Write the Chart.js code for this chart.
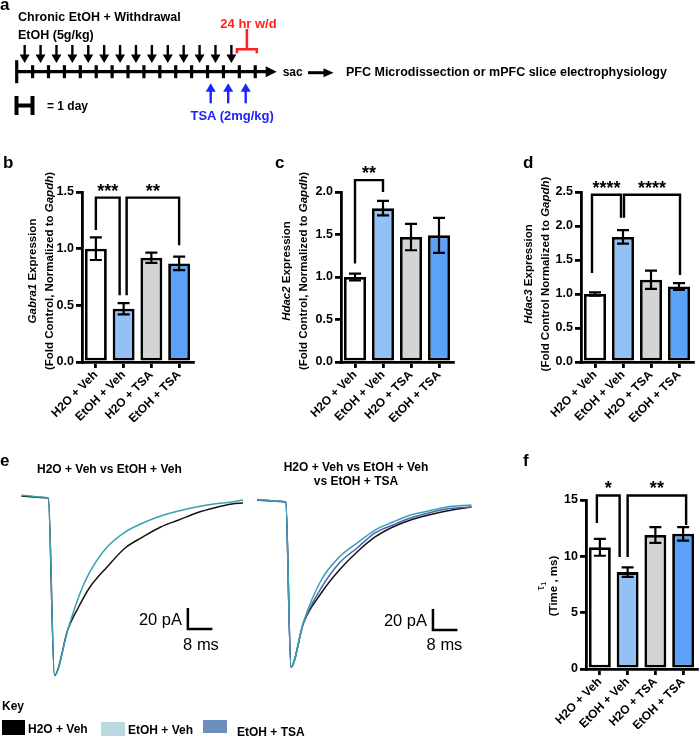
<!DOCTYPE html>
<html>
<head>
<meta charset="utf-8">
<script src="https://cdn.jsdelivr.net/npm/chart.js@4.4.1/dist/chart.umd.min.js"></script>
<style>
body { margin: 0; background: #fff; }
#fig { position: relative; width: 699px; height: 738px; overflow: hidden; font-family: 'Liberation Sans', Arial, sans-serif; color: #000; }
#fig canvas { position: absolute; left: 0; top: 0; }
.t { position: absolute; white-space: nowrap; line-height: 1; font-weight: bold; }
.yt { position: absolute; white-space: nowrap; line-height: 1; font-weight: bold; font-size: 11.5px; transform: translate(-50%, -50%) rotate(-90deg); }
.yt sub { font-size: 0.7em; vertical-align: -0.2em; line-height: 0; }
.sw { position: absolute; }
</style>
</head>
<body>
<div id="fig">
  <canvas id="timeline" width="699" height="738"></canvas>
  <canvas id="gabra1" width="699" height="738"></canvas>
  <canvas id="hdac2" width="699" height="738"></canvas>
  <canvas id="hdac3" width="699" height="738"></canvas>
  <canvas id="tau" width="699" height="738"></canvas>
  <canvas id="traceA" width="699" height="738"></canvas>
  <canvas id="traceB" width="699" height="738"></canvas>
</div>
<script>
// ---- data ----
const groups = ["H2O + Veh", "EtOH + Veh", "H2O + TSA", "EtOH + TSA"];

const gabra1Mean = [1.00, 0.47, 0.92, 0.87];
const gabra1Sem = [0.10, 0.05, 0.045, 0.06];
const hdac2Mean = [1.00, 1.81, 1.47, 1.49];
const hdac2Sem = [0.04, 0.085, 0.155, 0.205];
const hdac3Mean = [1.00, 1.84, 1.21, 1.11];
const hdac3Sem = [0.025, 0.10, 0.135, 0.05];
const tauMean = [10.8, 8.6, 11.9, 12.0];
const tauSem = [0.75, 0.42, 0.7, 0.6];

// significance brackets: bar indices, top value, leg end values, stars
const gabra1Sig = [
    { from: 0, to: 1, top: 1.45, yFrom: 1.165, yTo: 0.59, text: "***", dxTo: -4 },
    { from: 1, to: 3, top: 1.45, yFrom: 0.59, yTo: 1.03, text: "**", dxFrom: 3 }
];
const hdac2Sig = [
    { from: 0, to: 1, top: 2.14, yFrom: 1.16, yTo: 2.0, text: "**" }
];
const hdac3Sig = [
    { from: 0, to: 1, top: 2.46, yFrom: 1.31, yTo: 2.12, text: "****", dxFrom: -3, dxTo: -2 },
    { from: 1, to: 3, top: 2.46, yFrom: 2.12, yTo: 1.28, text: "****", dxFrom: 1, dxTo: 1 }
];
const tauSig = [
    { from: 0, to: 1, top: 15.4, yFrom: 12.95, yTo: 9.94, text: "*", dxFrom: -3, dxTo: -8 },
    { from: 1, to: 3, top: 15.4, yFrom: 9.94, yTo: 12.78, text: "**", dxTo: 3 }
];

// timeline (days)
const tickDays = [0, 1, 2, 3, 4, 5, 6, 7, 8, 9, 10, 11, 12, 13, 14, 15];
const etohDays = [0.5, 1.5, 2.5, 3.5, 4.5, 5.5, 6.5, 7.5, 8.5, 9.5, 10.5, 11.5, 12.5, 13.5];
const tsaDays = [12.2, 13.3, 14.4];
const withdrawalDays = [13.85, 15.1];

// current traces (ms, pA)
const timeA = [0, 3, 6, 8.8, 10.8, 15.2, 18.7, 22.2, 28.0, 33.9, 39.7, 45.5, 51.4, 57.2, 62.9, 68.8, 72.4];
const h2oVehA = [0, -0.8, -1.4, -2, -171, -127, -105.7, -87.6, -67.6, -49.5, -39, -29.5, -22.9, -16.2, -11.4, -7.6, -6.7];
const etohVehA = [0.6, 0, -1, -2, -171, -127, -96.2, -73.3, -48.6, -34.3, -25.7, -19, -14.3, -10.5, -7.6, -5.7, -3.8];

const timeB = [0, 3, 6, 9.4, 11.1, 15.2, 21.0, 26.9, 32.7, 38.6, 44.4, 50.2, 56.1, 61.9, 70.1];
const h2oVehB = [0, -0.5, -1.2, -1.9, -159, -117, -88.6, -66.7, -49.5, -35.2, -25.7, -19, -14.3, -10.5, -6.7];
const etohVehB = [0.5, 0, -1, -1.9, -159, -116, -76.2, -54.3, -41, -28.6, -21, -14.3, -10.5, -6.7, -4.8];
const etohTsaB = [0, -0.5, -1.2, -1.9, -159, -117, -83.8, -60, -45.7, -31.4, -23.8, -17.1, -12.4, -8.6, -6.7];

// ---- drawing ----
const W = 699, H = 738;
const FONT = "'Liberation Sans', Arial, sans-serif";
const barFill = ["#ffffff", "#93c1f6", "#d4d4d4", "#5aa1f7"];
const RED = "#ff2020", BLUE = "#1e22ff";
const fig = document.getElementById("fig");

function lab(html, x, base, size, o = {}) {
    const d = document.createElement("div");
    d.className = "t";
    d.innerHTML = html;
    d.style.fontSize = size + "px";
    d.style.left = x + "px";
    d.style.top = (base - 0.85 * size) + "px";
    if (o.color) d.style.color = o.color;
    if (o.weight) d.style.fontWeight = o.weight;
    if (o.align === "center") d.style.transform = "translateX(-50%)";
    if (o.align === "right") d.style.transform = "translateX(-100%)";
    fig.appendChild(d);
}

function yTitle(html, x, y, weight) {
    const d = document.createElement("div");
    d.className = "yt";
    d.innerHTML = html;
    d.style.left = x + "px";
    d.style.top = y + "px";
    if (weight) d.style.fontWeight = weight;
    fig.appendChild(d);
}

const marks = {
    id: "marks",
    afterDatasetsDraw(chart) {
        const { ctx, scales: { x, y } } = chart;
        const ds = chart.data.datasets[0];
        ctx.save();
        ctx.strokeStyle = "#000";
        ctx.fillStyle = "#000";
        ctx.lineWidth = 2.2;
        ds.data.forEach((m, i) => {
            const px = x.getPixelForValue(i);
            const hi = y.getPixelForValue(m + ds.sems[i]);
            const lo = y.getPixelForValue(m - ds.sems[i]);
            ctx.beginPath();
            ctx.moveTo(px, hi); ctx.lineTo(px, lo);
            ctx.moveTo(px - 6, hi); ctx.lineTo(px + 6, hi);
            ctx.moveTo(px - 6, lo); ctx.lineTo(px + 6, lo);
            ctx.stroke();
        });
        ctx.lineWidth = 2.4;
        ctx.font = "bold 18px " + FONT;
        ctx.textAlign = "center";
        ctx.textBaseline = "alphabetic";
        ds.brackets.forEach(b => {
            const xa = x.getPixelForValue(b.from) + (b.dxFrom || 0);
            const xb = x.getPixelForValue(b.to) + (b.dxTo || 0);
            const yt = y.getPixelForValue(b.top);
            ctx.beginPath();
            ctx.moveTo(xa, y.getPixelForValue(b.yFrom));
            ctx.lineTo(xa, yt);
            ctx.lineTo(xb, yt);
            ctx.lineTo(xb, y.getPixelForValue(b.yTo));
            ctx.stroke();
            ctx.fillText(b.text, (xa + xb) / 2, yt - 1);
        });
        ctx.restore();
    }
};

function barPanel(id, area, yMax, step, digits, means, sems, brackets) {
    const YW = 40, XH = 60;
    const tickFont = { family: FONT, size: 12.5, weight: "bold" };
    return new Chart(document.getElementById(id), {
        type: "bar",
        data: {
            labels: groups,
            datasets: [{
                data: means,
                sems: sems,
                brackets: brackets,
                backgroundColor: barFill,
                borderColor: "#000",
                borderWidth: 2.8,
                borderSkipped: false,
                barPercentage: 0.79,
                categoryPercentage: 1
            }]
        },
        options: {
            responsive: false,
            animation: false,
            events: [],
            layout: {
                autoPadding: false,
                padding: { left: area[0] - YW, right: W - area[1], top: area[2], bottom: H - area[3] - XH }
            },
            plugins: { legend: { display: false }, tooltip: { enabled: false } },
            scales: {
                x: {
                    offset: true,
                    grid: { offset: false, drawOnChartArea: false, tickLength: 6, color: "#000", lineWidth: 2.8 },
                    border: { color: "#000", width: 2.8 },
                    ticks: { color: "#000", font: { family: FONT, size: 12, weight: "bold" }, minRotation: 45, maxRotation: 45, autoSkip: false, padding: 0 },
                    afterFit: s => { s.height = XH; }
                },
                y: {
                    min: 0,
                    max: yMax,
                    grid: { drawOnChartArea: false, tickLength: 6, color: "#000", lineWidth: 2.8 },
                    border: { color: "#000", width: 2.8 },
                    ticks: { stepSize: step, color: "#000", font: tickFont, padding: 2, callback: v => v.toFixed(digits) },
                    afterFit: s => { s.width = YW; }
                }
            }
        },
        plugins: [marks]
    });
}

barPanel("gabra1", [82, 193, 192, 362], 1.5, 0.5, 1, gabra1Mean, gabra1Sem, gabra1Sig);
barPanel("hdac2", [341, 453, 192, 362], 2.0, 0.5, 1, hdac2Mean, hdac2Sem, hdac2Sig);
barPanel("hdac3", [581, 693, 192, 362], 2.5, 0.5, 1, hdac3Mean, hdac3Sem, hdac3Sig);
barPanel("tau", [586, 697, 500, 669], 15, 5, 0, tauMean, tauSem, tauSig);

// timeline of panel a
function arrowV(ctx, x, yFrom, yTip, color) {
    const s = yTip > yFrom ? 1 : -1;
    ctx.strokeStyle = color; ctx.fillStyle = color; ctx.lineWidth = 2.4;
    ctx.beginPath(); ctx.moveTo(x, yFrom); ctx.lineTo(x, yTip - s * 5); ctx.stroke();
    ctx.beginPath(); ctx.moveTo(x, yTip); ctx.lineTo(x - 5, yTip - s * 8.5); ctx.lineTo(x + 5, yTip - s * 8.5); ctx.closePath(); ctx.fill();
}
function arrowH(ctx, xFrom, xTip, y, w, hl, hw) {
    ctx.strokeStyle = "#000"; ctx.fillStyle = "#000"; ctx.lineWidth = w;
    ctx.beginPath(); ctx.moveTo(xFrom, y); ctx.lineTo(xTip - hl + 1, y); ctx.stroke();
    ctx.beginPath(); ctx.moveTo(xTip, y); ctx.lineTo(xTip - hl, y - hw); ctx.lineTo(xTip - hl, y + hw); ctx.closePath(); ctx.fill();
}

const timelineMarks = {
    id: "timelineMarks",
    afterDatasetsDraw(chart) {
        const { ctx, scales: { x, y } } = chart;
        const y0 = y.getPixelForValue(0);
        ctx.save();
        arrowH(ctx, x.getPixelForValue(15.8), x.getPixelForValue(16.35), y0, 3, 11, 5.5);
        etohDays.forEach(d => arrowV(ctx, x.getPixelForValue(d), y0 - 26.7, y0 - 8.7, "#000"));
        tsaDays.forEach(d => arrowV(ctx, x.getPixelForValue(d), y0 + 31.6, y0 + 11.6, BLUE));
        const w1 = x.getPixelForValue(withdrawalDays[0]), w2 = x.getPixelForValue(withdrawalDays[1]);
        ctx.strokeStyle = RED; ctx.lineWidth = 2.5;
        ctx.beginPath();
        ctx.moveTo(w1, y0 - 18.5); ctx.lineTo(w1, y0 - 22.4); ctx.lineTo(w2, y0 - 22.4); ctx.lineTo(w2, y0 - 18.5);
        ctx.moveTo((w1 + w2) / 2, y0 - 22.4); ctx.lineTo((w1 + w2) / 2, y0 - 42.7);
        ctx.stroke();
        // "1 day" glyph
        ctx.strokeStyle = "#000"; ctx.lineWidth = 4;
        ctx.beginPath();
        ctx.moveTo(16.5, 96); ctx.lineTo(16.5, 115);
        ctx.moveTo(32.5, 96); ctx.lineTo(32.5, 115);
        ctx.moveTo(16.5, 105.5); ctx.lineTo(32.5, 105.5);
        ctx.stroke();
        arrowH(ctx, 308, 333.5, 72.7, 3, 10, 4.5);
        ctx.restore();
    }
};

new Chart(document.getElementById("timeline"), {
    type: "scatter",
    data: {
        datasets: [
            { data: [{ x: 0, y: 0 }, { x: 15.9, y: 0 }], showLine: true, borderColor: "#000", borderWidth: 3.2, pointRadius: 0, clip: false },
            {
                data: tickDays.map(d => ({ x: d, y: 0 })),
                pointStyle: "line",
                pointRotation: 90,
                pointRadius: tickDays.map((d, i) => i === 0 ? 11.5 : 6.5),
                pointBorderColor: "#000",
                pointBorderWidth: 3.2,
                clip: false
            }
        ]
    },
    options: {
        responsive: false,
        animation: false,
        events: [],
        layout: { autoPadding: false, padding: { left: 16.7, right: W - 277.5, top: 51.7, bottom: H - 91.7 } },
        plugins: { legend: { display: false }, tooltip: { enabled: false } },
        scales: {
            x: { type: "linear", min: 0, max: 16.4, display: false },
            y: { min: -1, max: 1, display: false }
        }
    },
    plugins: [timelineMarks]
});

// traces of panel e
function scaleBar(anchor) {
    return {
        id: "scaleBar",
        afterDatasetsDraw(chart) {
            const { ctx, scales: { x, y } } = chart;
            const x0 = x.getPixelForValue(anchor.x), y0 = y.getPixelForValue(anchor.y);
            ctx.save();
            ctx.strokeStyle = "#000";
            ctx.lineWidth = 2.5;
            ctx.beginPath();
            ctx.moveTo(x0, y.getPixelForValue(anchor.y + 20));
            ctx.lineTo(x0, y0);
            ctx.lineTo(x.getPixelForValue(anchor.x + 8), y0);
            ctx.stroke();
            ctx.restore();
        }
    };
}

function traceChart(id, area, times, series, anchor) {
    new Chart(document.getElementById(id), {
        type: "scatter",
        data: {
            datasets: series.map(s => ({
                data: times.map((t, i) => ({ x: t, y: s.values[i] })),
                showLine: true,
                borderColor: s.color,
                borderWidth: 1.5,
                pointRadius: 0,
                cubicInterpolationMode: "monotone",
                clip: false
            }))
        },
        options: {
            responsive: false,
            animation: false,
            events: [],
            layout: { autoPadding: false, padding: { left: area[0], right: W - area[1], top: area[2], bottom: H - area[3] } },
            plugins: { legend: { display: false }, tooltip: { enabled: false } },
            scales: {
                x: { type: "linear", min: 0, max: 75, display: false },
                y: { min: -180, max: 10, display: false }
            }
        },
        plugins: [scaleBar(anchor)]
    });
}

const TEAL = "#3c9fb4", TSA = "#4d62b3", BLACK = "#141414";
traceChart("traceA", [21.4, 250.9, 485.5, 685], timeA,
    [{ values: etohVehA, color: TEAL }, { values: h2oVehA, color: BLACK }], { x: 54.4, y: -126.7 });
traceChart("traceB", [257, 486.5, 489.5, 689], timeB,
    [{ values: etohVehB, color: TEAL }, { values: etohTsaB, color: TSA }, { values: h2oVehB, color: BLACK }], { x: 57.5, y: -123.8 });

// ---- text ----
lab("a", 0, 10, 17);
lab("Chronic EtOH + Withdrawal", 18, 22, 12.5);
lab("EtOH (5g/kg)", 18, 39.5, 12.5);
lab("24 hr w/d", 248.5, 28, 13, { align: "center", color: RED });
lab("= 1 day", 47, 110.5, 12);
lab("TSA (2mg/kg)", 190.5, 120, 13, { color: BLUE });
lab("sac", 282.7, 76, 12);
lab("PFC Microdissection or mPFC slice electrophysiology", 346, 77, 12.5);

lab("b", 3, 168, 17);
lab("c", 275, 168, 17);
lab("d", 523, 168, 17);
lab("e", 0, 466.5, 17);
lab("f", 523, 466, 17);

yTitle("<i>Gabra1</i> Expression", 33, 271);
yTitle("(Fold Control, Normalized to <i>Gapdh</i>)", 50, 271);
yTitle("<i>Hdac2</i> Expression", 287, 271);
yTitle("(Fold Control, Normalized to <i>Gapdh</i>)", 304, 271);
yTitle("<i>Hdac3</i> Expression", 529, 274);
yTitle("(Fold Control Normalized to <i>Gapdh</i>)", 546, 274);
yTitle("τ<sub>1</sub>", 541, 586, "normal");
yTitle("(Time , ms)", 554, 586);

lab("H2O + Veh vs EtOH + Veh", 37, 473, 12);
lab("H2O + Veh vs EtOH + Veh", 356, 471, 12, { align: "center" });
lab("vs EtOH + TSA", 356, 485.5, 12, { align: "center" });
lab("20 pA", 182, 625, 16.5, { align: "right", weight: "normal" });
lab("8 ms", 201, 650, 16.5, { align: "center", weight: "normal" });
lab("20 pA", 427, 626.5, 16.5, { align: "right", weight: "normal" });
lab("8 ms", 444.5, 650.5, 16.5, { align: "center", weight: "normal" });

lab("Key", 2, 710, 12);
[[2, 720, 23, 15, "#000000"], [100.7, 722, 24.3, 14, "#b9d9e0"], [203, 720, 24, 13, "#6b8fbe"]].forEach(s => {
    const d = document.createElement("div");
    d.className = "sw";
    d.style.cssText += `left:${s[0]}px;top:${s[1]}px;width:${s[2]}px;height:${s[3]}px;background:${s[4]};`;
    fig.appendChild(d);
});
lab("H2O + Veh", 28, 733, 12);
lab("EtOH + Veh", 128, 734, 12);
lab("EtOH + TSA", 237, 736.5, 12);
</script>
</body>
</html>
